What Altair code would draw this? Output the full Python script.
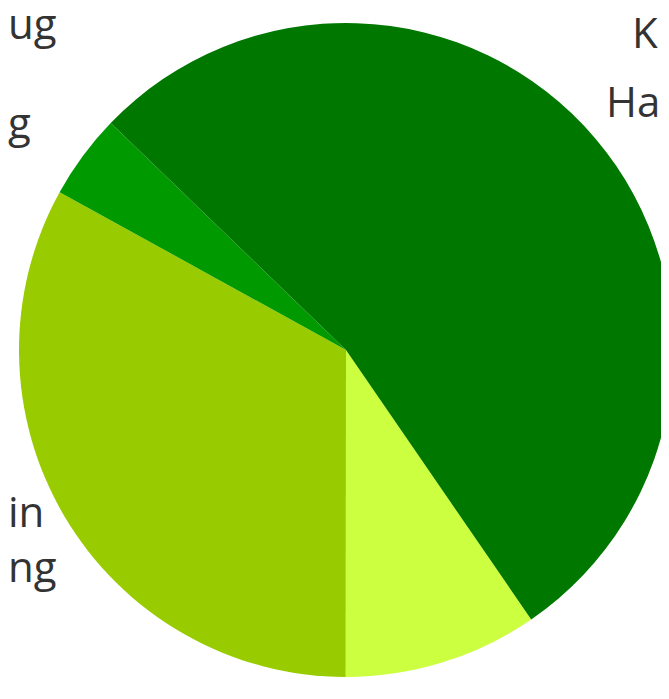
import altair as alt
import pandas as pd

# slice data
categories = ["Yellow", "Light green", "Medium green", "Dark green"]
shares = [9.6, 33.0, 4.2, 53.2]
order = [1, 2, 3, 4]
colors = ["#ccff40", "#99cc00", "#009a00", "#007800"]

# visible label fragments (the chart is cropped)
label_texts = ["ug", "g", "in", "ng"]
label_x = [0, 0, 0, 0]
label_y = [31, 130, 519, 574]
right_texts = ["Ha", "K"]
right_x = [598, 624]
right_y = [109, 40]

W, H = 653, 683
start = 145.5 * 3.14159265 / 180.0

pie_df = pd.DataFrame({"category": categories, "share": shares, "order": order})
left_df = pd.DataFrame({"t": label_texts, "x": label_x, "y": label_y})
right_df = pd.DataFrame({"t": right_texts, "x": right_x, "y": right_y})

pie = alt.Chart(pie_df).mark_arc(stroke=None).encode(
    theta=alt.Theta("share:Q", stack=True,
                    scale=alt.Scale(range=[start, start + 2 * 3.14159265])),
    order=alt.Order("order:Q"),
    color=alt.Color("category:N", scale=alt.Scale(domain=categories, range=colors), legend=None),
    x=alt.value(338),
    y=alt.value(342),
    radius=alt.value(327),
)

xs = alt.Scale(domain=[0, W], range=[0, W])
ys = alt.Scale(domain=[0, H], range=[0, H])

labels = alt.Chart(pd.concat([left_df, right_df], ignore_index=True)).mark_text(
    align="left", baseline="alphabetic", font="Open Sans", fontSize=42, color="#333333"
).encode(
    x=alt.X("x:Q", scale=xs, axis=None),
    y=alt.Y("y:Q", scale=ys, axis=None),
    text="t:N",
)

chart = alt.layer(pie, labels).properties(
    width=W, height=H, padding=0, autosize=alt.AutoSizeParams(type="none")
).configure_view(stroke=None)

chart.save("out.html", embed_options={"renderer": "svg", "actions": False})
